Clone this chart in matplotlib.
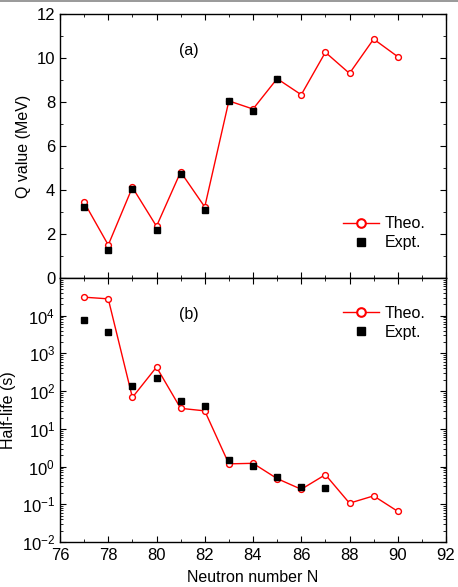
import numpy as np
import matplotlib.pyplot as plt
from matplotlib.lines import Line2D
from matplotlib.ticker import MultipleLocator, LogLocator, NullFormatter

plt.rcParams['font.family'] = ['Liberation Sans', 'DejaVu Sans']
plt.rcParams['mathtext.fontset'] = 'custom'
plt.rcParams['mathtext.rm'] = 'Liberation Sans'

N_theo = [77, 78, 79, 80, 81, 82, 83, 84, 85, 86, 87, 88, 89, 90]
Q_theo = [3.44, 1.50, 4.12, 2.35, 4.82, 3.23, 8.05, 7.68, 9.06, 8.33, 10.26, 9.30, 10.86, 10.06]
T_theo = [3.1e4, 2.8e4, 68, 434, 35, 30, 1.18, 1.22, 0.48, 0.25, 0.61, 0.107, 0.167, 0.065]

N_q_expt = [77, 78, 79, 80, 81, 82, 83, 84, 85]
Q_expt = [3.23, 1.27, 4.03, 2.17, 4.71, 3.09, 8.05, 7.59, 9.06]

N_t_expt = [77, 78, 79, 80, 81, 82, 83, 84, 85, 86, 87]
T_expt = [7.6e3, 3.6e3, 135, 222, 56, 40, 1.45, 1.06, 0.53, 0.29, 0.27]

fig = plt.figure(figsize=(4.58, 5.87), dpi=100)
ax1 = fig.add_axes([60/458, 1-278/587, 386/458, 264/587])
ax2 = fig.add_axes([60/458, 1-542/587, 386/458, 264/587], sharex=ax1)
fig.add_artist(Line2D([0, 1], [0.999, 0.999], transform=fig.transFigure, color='#888888', lw=1.2))

theo_style = dict(color='red', lw=1.0, marker='o', ms=4.2, mfc='white', mec='red', mew=1.0)
expt_style = dict(ls='none', marker='s', ms=4.6, color='black')

ax1.plot(N_theo, Q_theo, label='Theo.', **theo_style)
ax1.plot(N_q_expt, Q_expt, label='Expt.', **expt_style)
ax2.plot(N_theo, T_theo, label='Theo.', **theo_style)
ax2.plot(N_t_expt, T_expt, label='Expt.', **expt_style)

ax1.set_xlim(76, 92)
ax1.set_ylim(0, 12)
ax1.yaxis.set_major_locator(MultipleLocator(2))
ax1.yaxis.set_minor_locator(MultipleLocator(1))
ax1.xaxis.set_major_locator(MultipleLocator(2))
ax1.xaxis.set_minor_locator(MultipleLocator(1))
ax1.tick_params(labelbottom=False)
ax1.set_ylabel('Q value (MeV)', fontsize=11.5)

ax2.set_yscale('log')
ax2.set_ylim(1e-2, 1e5)
ax2.set_yticks([1e-2, 1e-1, 1e0, 1e1, 1e2, 1e3, 1e4])
ax2.yaxis.set_minor_locator(LogLocator(base=10, subs=np.arange(2, 10), numticks=20))
ax2.yaxis.set_minor_formatter(NullFormatter())
ax2.set_ylabel('Half-life (s)', fontsize=11.5)
ax2.set_xlabel('Neutron number N', fontsize=11.5, labelpad=5)

for ax in (ax1, ax2):
    ax.tick_params(which='both', direction='in', top=True, right=True, labelsize=12)
    ax.tick_params(which='major', length=4)
    ax.tick_params(which='minor', length=2)
    for s in ax.spines.values():
        s.set_linewidth(1.0)
ax2.tick_params(axis='x', pad=4)

leg_style = dict(frameon=False, fontsize=11.5, handlelength=2.2,
                 handletextpad=0.4, labelspacing=0.25)
leg1 = ax1.legend(loc='lower right', bbox_to_anchor=(0.985, 0.05), **leg_style)
leg2 = ax2.legend(loc='upper right', bbox_to_anchor=(0.985, 0.95), **leg_style)
for leg in (leg1, leg2):
    leg.legend_handles[0].set_markersize(6.2)
    leg.legend_handles[0].set_markeredgewidth(1.5)
    leg.legend_handles[1].set_markersize(5.5)

ax1.text(0.335, 0.86, '(a)', transform=ax1.transAxes, ha='center', va='center', fontsize=11.5)
ax2.text(0.335, 0.86, '(b)', transform=ax2.transAxes, ha='center', va='center', fontsize=11.5)

fig.savefig('out.png', dpi=100)
